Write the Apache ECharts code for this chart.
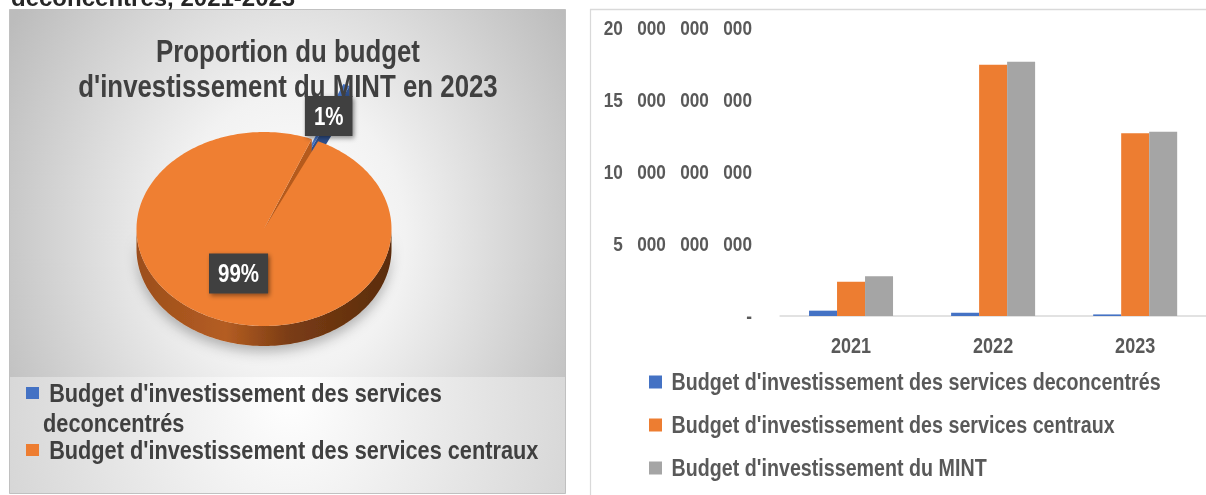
<!DOCTYPE html>
<html>
<head>
<meta charset="utf-8">
<script src="https://cdn.jsdelivr.net/npm/echarts@6/dist/echarts.min.js"></script>
<style>
  html, body { margin: 0; padding: 0; background: #fff; overflow: hidden; width: 1206px; height: 495px; }
  /* Arial Narrow n'est pas installée : on dessine en Liberation Sans et on comprime en X */
  #chart { width: 1470.73px; height: 495px; transform: scaleX(0.82); transform-origin: 0 0; }
</style>
</head>
<body>
<div id="chart"></div>
<script>
// données
const years = ["2021", "2022", "2023"];
const seriesNames = [
  "Budget d'investissement des services deconcentrés",
  "Budget d'investissement des services centraux",
  "Budget d'investissement du MINT"
];
const deconcentres = [0.37e9, 0.22e9, 0.11e9];
const centraux = [2.38e9, 17.42e9, 12.67e9];
const mint = [2.75e9, 17.63e9, 12.78e9];
const yTickLabels = ["-", "5   000   000   000", "10   000   000   000", "15   000   000   000", "20   000   000   000"];
const yInterval = 5e9;

// camembert 2023
const pieNames = [seriesNames[0], seriesNames[1]];
const pieValues = [deconcentres[2], centraux[2]];

const SX = 0.82;              // compression horizontale du conteneur
const X = (x) => x / SX;      // position écran -> position dans le graphique
const FONT = '"Liberation Sans", Arial, sans-serif';
const colors = ["#4472c4", "#ed7d31", "#a5a5a5"];

// géométrie du camembert "3D"
const PIE = { cx: X(264), cy: 229, rx: X(127.5), ry: 97, depth: 20, start: 22 };
const pieExplode = [0.62, 0];
const pieLabelR = [1.27, 0.5];
const pieStyle = [
  { top: "#4472c4", side: "#2f5597", wall: "#2e4f8c" },
  {
    top: "#ef7f32",
    side: { type: "linear", x: 0, y: 0, x2: 1, y2: 0, colorStops: [
      { offset: 0, color: "#9c4e1c" }, { offset: 0.35, color: "#b45d22" },
      { offset: 0.6, color: "#7a3c14" }, { offset: 1, color: "#5a2c0c" }] },
    wall: "#b55a1c"
  }
];

const rad = (d) => d * Math.PI / 180;
function P(a, f, dx, dy) {
  return [PIE.cx + dx + f * PIE.rx * Math.sin(rad(a)), PIE.cy + dy - f * PIE.ry * Math.cos(rad(a))];
}
function arc(a0, a1, dx, dy) {
  const n = Math.max(2, Math.ceil(Math.abs(a1 - a0)));
  const pts = [];
  for (let k = 0; k <= n; k++) pts.push(P(a0 + (a1 - a0) * k / n, 1, dx, dy));
  return pts;
}
const norm = (a) => ((a % 360) + 360) % 360;

function renderPie(params, api) {
  const i = params.dataIndex;
  const total = pieValues.reduce((s, v) => s + v, 0);
  let a0 = PIE.start;
  for (let k = 0; k < i; k++) a0 += pieValues[k] / total * 360;
  const a1 = a0 + api.value(0) / total * 360;
  const mid = (a0 + a1) / 2;
  const ex = pieExplode[i];
  const ox = ex * PIE.rx * Math.sin(rad(mid));
  const oy = -ex * PIE.ry * Math.cos(rad(mid));
  const D = PIE.depth;
  const st = pieStyle[i];
  const zb = Math.round((1 - Math.cos(rad(mid))) * 10) * 4;
  const children = [];

  // parois radiales visibles (utile quand une part est détachée)
  const wall = (a) => ({
    type: "polygon", z2: zb,
    shape: { points: [P(a, 0, ox, oy), P(a, 1, ox, oy), P(a, 1, ox, oy + D), P(a, 0, ox, oy + D)] },
    style: { fill: st.wall }
  });
  if (norm(a1) > 0 && norm(a1) < 180) children.push(wall(a1));
  if (norm(a0) > 180 && norm(a0) < 360) children.push(wall(a0));

  // tranche avant
  [-360, 0, 360].forEach((k) => {
    const lo = Math.max(a0 + k, 90), hi = Math.min(a1 + k, 270);
    if (lo < hi) {
      children.push({
        type: "polygon", z2: zb + 1,
        shape: { points: arc(lo, hi, ox, oy).concat(arc(hi, lo, ox, oy + D)) },
        style: { fill: st.side, shadowBlur: 14, shadowColor: "rgba(0,0,0,0.3)", shadowOffsetY: 5 }
      });
    }
  });

  // face du dessus
  children.push({
    type: "polygon", z2: zb + 2,
    shape: { points: [P(0, 0, ox, oy)].concat(arc(a0, a1, ox, oy)) },
    style: { fill: st.top }
  });

  const lp = P(mid, pieLabelR[i], 0, 0);
  children.push({
    type: "text", z2: 200, x: lp[0], y: lp[1],
    style: {
      text: Math.round(api.value(0) / total * 100) + "%",
      fontFamily: FONT, fontWeight: "bold", fontSize: 25, lineHeight: 26,
      fill: "#fff", align: "center", verticalAlign: "middle",
      backgroundColor: "#3f3f3f", padding: [8, X(9), 6, X(9)],
      shadowBlur: 5, shadowColor: "rgba(0,0,0,0.45)", shadowOffsetX: 2, shadowOffsetY: 2
    }
  });
  return { type: "group", children };
}

const chart = echarts.init(document.getElementById("chart"), null, { renderer: "svg" });

chart.setOption({
  animation: false,
  graphic: [
    {
      // fin du titre de la page, coupé en haut
      type: "text", x: X(11), y: -2, z: -5, scaleX: 1 / SX,
      style: { text: "deconcentrés, 2021-2023", fontFamily: FONT,
        fontWeight: "bold", fontSize: 24, fill: "#262626", verticalAlign: "middle" }
    },
    {
      type: "rect", z: -10, shape: { x: X(9.5), y: 9.5, width: X(556), height: 484 },
      style: { stroke: "#bdbdbd", lineWidth: 1,
        fill: { type: "radial", x: X(290), y: 235, r: 400, global: true,
          colorStops: [{ offset: 0, color: "#ffffff" }, { offset: 0.35, color: "#f2f2f2" }, { offset: 1, color: "#bcbcbc" }] } }
    },
    {
      type: "rect", z: -9, shape: { x: X(10), y: 377, width: X(555), height: 116 },
      style: { fill: { type: "radial", x: X(290), y: 395, r: 360, global: true,
          colorStops: [{ offset: 0, color: "#ffffff" }, { offset: 1, color: "#d6d6d6" }] } }
    },
    {
      type: "rect", z: -10, shape: { x: X(590.5), y: 9.5, width: X(700), height: 600 },
      style: { fill: "#fff", stroke: "#d9d9d9", lineWidth: 1.5 }
    },
    {
      type: "text", x: X(288), y: 68.5, z: 10,
      style: { text: "Proportion du budget\nd'investissement du MINT en 2023",
        fontFamily: FONT, fontWeight: "bold", fontSize: 31.5, lineHeight: 35,
        fill: "#404040", align: "center", verticalAlign: "middle" }
    }
  ],
  legend: [
    {
      // ligne vide en tête : la première ligne du texte reste en face du carré
      data: [seriesNames[0]], left: X(26), top: 348.75, padding: 0, selectedMode: false,
      icon: "rect", itemWidth: X(13), itemHeight: 12,
      formatter: (n) => "\n " + n,
      textStyle: { fontFamily: FONT, fontWeight: "bold", fontSize: 26.5, color: "#404040",
        width: X(515), overflow: "break", lineHeight: 29.5 }
    },
    {
      data: [seriesNames[1]], left: X(26), top: 435.25, padding: 0, selectedMode: false,
      icon: "rect", itemWidth: X(13), itemHeight: 12,
      formatter: (n) => " " + n,
      textStyle: { fontFamily: FONT, fontWeight: "bold", fontSize: 26.5, color: "#404040",
        lineHeight: 29.5 }
    },
    {
      data: seriesNames, orient: "vertical", left: X(649), top: 369, padding: 0, selectedMode: false,
      icon: "rect", itemWidth: X(13), itemHeight: 13, itemGap: 17,
      formatter: (n) => " " + n,
      textStyle: { fontFamily: FONT, fontWeight: "bold", fontSize: 24, color: "#595959", lineHeight: 26 }
    }
  ],
  grid: { left: X(780), top: 27.5, width: X(438), height: 288.5 },
  xAxis: {
    type: "category", data: years,
    axisLine: { lineStyle: { color: "#d9d9d9", width: 1.5 } },
    axisTick: { show: false },
    axisLabel: { color: "#595959", fontFamily: FONT, fontWeight: "bold", fontSize: 22, margin: 18 }
  },
  yAxis: {
    type: "value", min: 0, max: 20e9, interval: yInterval,
    axisLine: { show: false }, axisTick: { show: false }, splitLine: { show: false },
    axisLabel: { color: "#595959", fontFamily: FONT, fontWeight: "bold", fontSize: 21, margin: X(28),
      formatter: (v) => yTickLabels[Math.round(v / yInterval)] }
  },
  series: [
    { name: seriesNames[0], type: "bar", data: deconcentres, barWidth: X(28), barGap: "0%", itemStyle: { color: colors[0] } },
    { name: seriesNames[1], type: "bar", data: centraux, barWidth: X(28), barGap: "0%", itemStyle: { color: colors[1] } },
    { name: seriesNames[2], type: "bar", data: mint, barWidth: X(28), barGap: "0%", itemStyle: { color: colors[2] } },
    {
      name: "Proportion 2023", type: "custom", coordinateSystem: "none", silent: true, z: 3,
      renderItem: renderPie,
      data: pieValues.map((v, i) => ({ name: pieNames[i], value: v }))
    }
  ]
});
</script>
</body>
</html>
